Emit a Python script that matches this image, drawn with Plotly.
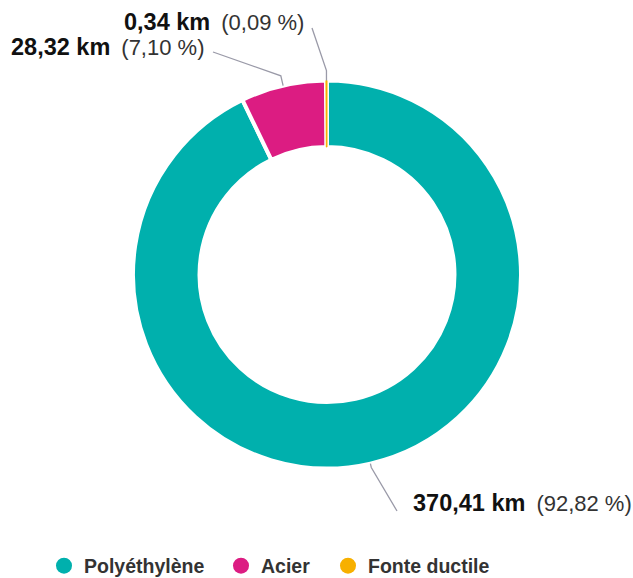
import math
import plotly.graph_objects as go

# Pipe network length by material (km)
materials = ["Polyéthylène", "Acier", "Fonte ductile"]
lengths_km = [370.41, 28.32, 0.34]
colors = ["#00B0AD", "#DC1C82", "#F7B000"]

W, H = 633, 578
CX, CY, R = 327, 274.5, 194          # ring centre and radius, px
HOLE = 0.657
FONT = "Liberation Sans, Arial, Helvetica, sans-serif"
LINE_COLOR = "#9A9AA8"

total = sum(lengths_km)
shares = [v / total * 100 for v in lengths_km]


def fr(x, nd=2):
    return f"{x:.{nd}f}".replace(".", ",")


def to_paper(x, y):
    return x / W, 1 - y / H


def polar(theta_deg, r):
    t = math.radians(theta_deg)
    return CX + r * math.sin(t), CY - r * math.cos(t)


# mid-angle of each slice, clockwise from 12 o'clock
mid_angles = []
acc = 0.0
for s in shares:
    mid_angles.append((acc + s / 2) * 3.6)
    acc += s

fig = go.Figure()

fig.add_trace(go.Pie(
    labels=materials,
    values=lengths_km,
    hole=HOLE,
    sort=False,
    direction="clockwise",
    rotation=0,
    textinfo="none",
    hoverinfo="label+value+percent",
    marker=dict(colors=colors,
                line=dict(color=["#FFFFFF", "#FFFFFF", colors[2]], width=[4, 4, 1])),
    domain=dict(x=[(CX - R) / W, (CX + R) / W],
                y=[1 - (CY + R) / H, 1 - (CY - R) / H]),
    showlegend=False,
))

# legend entries with round markers, one legend box per entry
legend_marker_x = [63, 240, 347]
legend_names = ["legend", "legend2", "legend3"]
for name, c, lg in zip(materials, colors, legend_names):
    fig.add_trace(go.Scatter(
        x=[None], y=[None], mode="markers", name=name, legend=lg,
        marker=dict(size=17, color=c, symbol="circle"),
        hoverinfo="skip",
    ))

# label placement: (anchor px x, px y, xanchor, leader end px x, px y)
label_layout = [
    (411, 503, "left", 397, 511),
    (206, 47, "right", 213, 52),
    (306, 22, "right", 312, 28),
]

shapes = []
annotations = []
for i, (name, v, s) in enumerate(zip(materials, lengths_km, shares)):
    th = mid_angles[i]
    lx, ly, xa, ex, ey = label_layout[i]
    p0 = polar(th, R)
    p1 = polar(th, R + 10) if i > 0 else polar(th, R + 4)
    pts = [p0, p1, (ex, ey)]
    path = "M " + " L ".join(f"{to_paper(*p)[0]:.5f},{to_paper(*p)[1]:.5f}" for p in pts)
    shapes.append(dict(type="path", xref="paper", yref="paper", path=path,
                       line=dict(color=LINE_COLOR, width=1.3)))
    ax, ay = to_paper(lx, ly)
    annotations.append(dict(
        x=ax, y=ay, xref="paper", yref="paper", xanchor=xa, yanchor="middle",
        showarrow=False,
        text=(f"<b>{fr(v)} km</b><span style='font-size:22px;color:#333333'>"
              f"\u2002({fr(s)} %)</span>"),
        font=dict(family=FONT, size=23.5, color="#111111"),
    ))

legend_style = dict(
    orientation="h", xanchor="left", y=(H - 566) / H, yanchor="middle",
    font=dict(family=FONT, size=19.5, color="#333333", weight="bold"),
    itemclick=False, itemdoubleclick=False, bgcolor="rgba(0,0,0,0)",
)

fig.update_layout(
    width=W, height=H,
    margin=dict(l=0, r=0, t=0, b=0, autoexpand=False),
    paper_bgcolor="white", plot_bgcolor="white",
    xaxis=dict(visible=False), yaxis=dict(visible=False),
    shapes=shapes,
    annotations=annotations,
    **{lg: dict(legend_style, x=(mx - 19) / W)
       for lg, mx in zip(legend_names, legend_marker_x)},
)

fig.write_html("out.html")
